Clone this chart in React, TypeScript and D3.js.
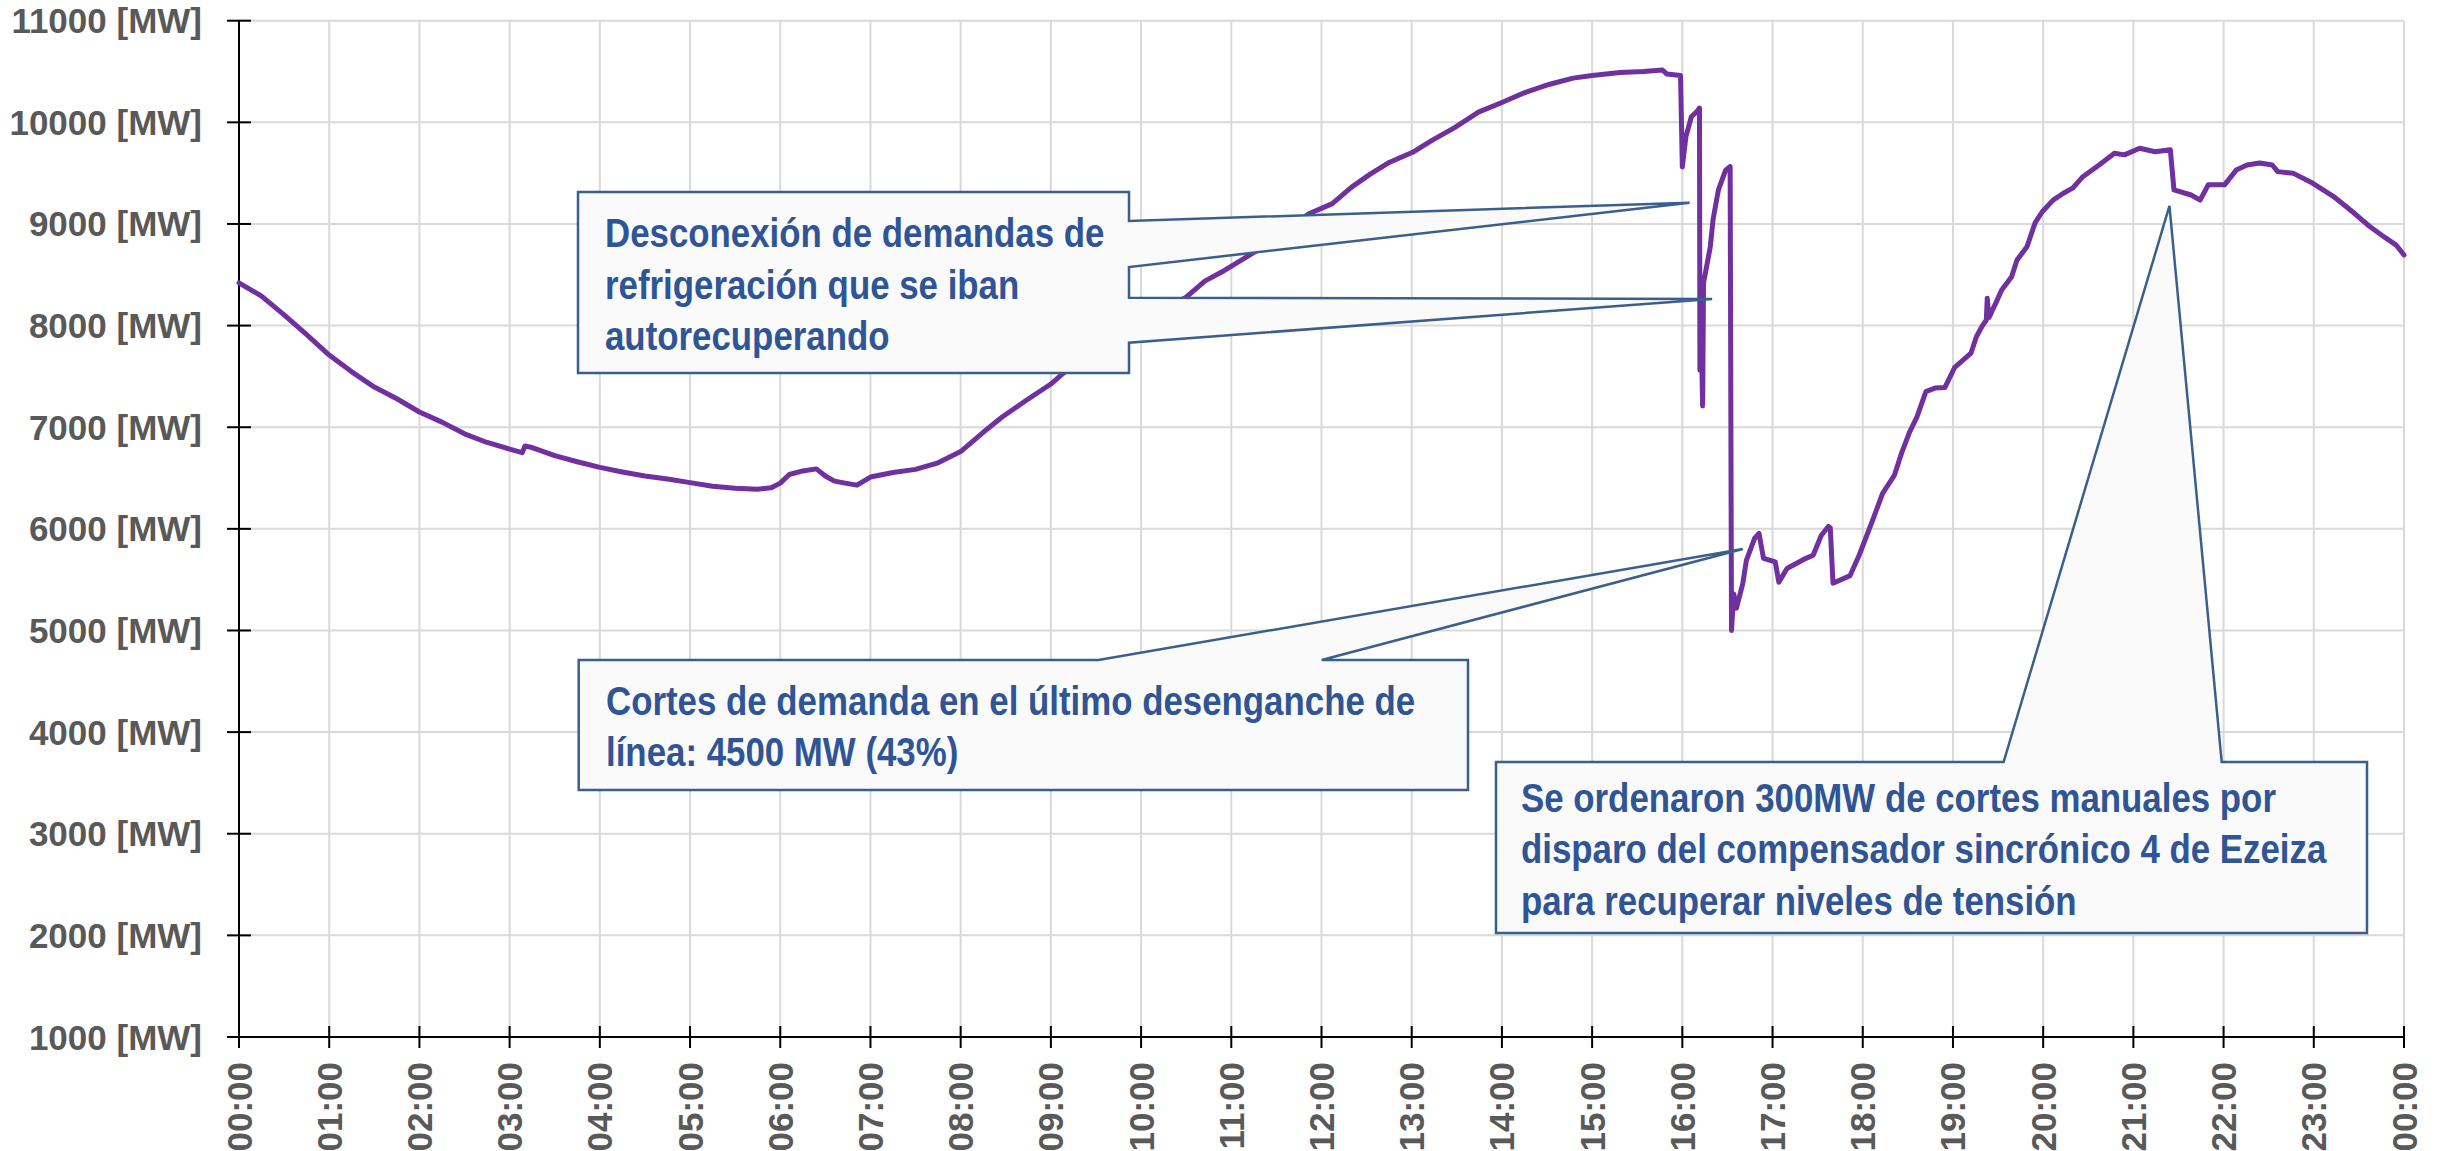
import React from 'react';
import * as d3 from 'd3';

// ---- data (hour of day, demand in MW) ----
const hours = [
  0.0, 0.25, 0.5, 0.75, 1.0, 1.25, 1.5, 1.75, 2.0, 2.25, 2.5, 2.75, 3.0, 3.14, 3.17, 3.25, 3.5, 3.75,
  4.0, 4.25, 4.5, 4.75, 5.0, 5.25, 5.5, 5.75, 5.9, 6.0, 6.1, 6.25, 6.4, 6.5, 6.6, 6.75, 6.85, 7.0,
  7.25, 7.5, 7.75, 8.0, 8.25, 8.46, 8.72, 9.0, 9.11, 9.5, 10.0, 10.25, 10.5, 10.71, 10.92, 11.13,
  11.4, 11.6, 11.86, 12.12, 12.33, 12.54, 12.75, 13.01, 13.22, 13.48, 13.74, 14.0, 14.26, 14.53,
  14.79, 15.0, 15.31, 15.57, 15.78, 15.83, 15.98, 16.0, 16.04, 16.1, 16.16, 16.19, 16.195, 16.21,
  16.225, 16.235, 16.31, 16.34, 16.4, 16.48, 16.53, 16.545, 16.57, 16.6, 16.67, 16.71, 16.8, 16.85,
  16.9, 17.03, 17.07, 17.16, 17.37, 17.45, 17.54, 17.62, 17.64, 17.67, 17.86, 17.96, 18.11, 18.22,
  18.35, 18.43, 18.52, 18.6, 18.7, 18.8, 18.91, 19.02, 19.2, 19.26, 19.32, 19.37, 19.38, 19.4, 19.49,
  19.54, 19.65, 19.71, 19.82, 19.91, 19.99, 20.11, 20.22, 20.33, 20.44, 20.62, 20.79, 20.9, 21.07,
  21.24, 21.41, 21.45, 21.64, 21.74, 21.83, 22.01, 22.14, 22.26, 22.4, 22.54, 22.6, 22.77, 22.99,
  23.22, 23.45, 23.62, 23.8, 23.91, 24.0,
];
const demandMW = [
  8420, 8290, 8105, 7910, 7710, 7545, 7395, 7280, 7150, 7050, 6935, 6850, 6785, 6750, 6815, 6800, 6720, 6660,
  6605, 6560, 6520, 6490, 6455, 6420, 6400, 6390, 6405, 6450, 6535, 6570, 6590, 6520, 6470, 6445, 6430, 6510,
  6555, 6585, 6650, 6760, 6950, 7100, 7260, 7425, 7510, 7790, 8040, 8160, 8280, 8440, 8540, 8655,
  8800, 8930, 9100, 9200, 9360, 9490, 9605, 9705, 9820, 9950, 10100, 10195, 10295, 10375,
  10435, 10460, 10490, 10500, 10515, 10475, 10460, 9560, 9860, 10055, 10105, 10140, 7560, 7900,
  7210, 8420, 8775, 9040, 9335, 9530, 9565, 5000, 5360, 5220, 5460, 5690, 5905, 5955,
  5710, 5675, 5475, 5610, 5710, 5740, 5935, 6025, 6010, 5465, 5540, 5740, 6085, 6350,
  6525, 6745, 6955, 7100, 7350, 7385, 7390, 7590, 7730, 7890, 7990, 8055, 8270, 8080, 8250,
  8350, 8480, 8645, 8775, 9010, 9120, 9235, 9300, 9355, 9465, 9580, 9695, 9680, 9745,
  9710, 9730, 9335, 9285, 9235, 9385, 9385, 9530, 9580, 9600, 9580, 9515, 9500, 9400,
  9270, 9105, 8975, 8860, 8795, 8695,
];
const yTicks = [1000, 2000, 3000, 4000, 5000, 6000, 7000, 8000, 9000, 10000, 11000];
const xTickHours = [0, 1, 2, 3, 4, 5, 6, 7, 8, 9, 10, 11, 12, 13, 14, 15, 16, 17, 18, 19, 20, 21, 22, 23, 24];
const xTickLabels = [
  '00:00', '01:00', '02:00', '03:00', '04:00', '05:00', '06:00', '07:00', '08:00', '09:00', '10:00', '11:00',
  '12:00', '13:00', '14:00', '15:00', '16:00', '17:00', '18:00', '19:00', '20:00', '21:00', '22:00', '23:00', '00:00',
];

// annotation texts & tips (tip in data space)
const note1Lines = ['Desconexión de demandas de', 'refrigeración que se iban', 'autorecuperando'];
const note1Tips: [number, number][] = [[16.08, 9209], [16.33, 8262]];
const note2Lines = ['Cortes de demanda en el último desenganche de', 'línea: 4500 MW (43%)'];
const note2Tip: [number, number] = [16.67, 5802];
const note3Lines = [
  'Se ordenaron 300MW de cortes manuales por',
  'disparo del compensador sincrónico 4 de Ezeiza',
  'para recuperar niveles de tensión',
];
const note3Tip: [number, number] = [21.4, 9177];

const W = 2451;
const H = 1151;
const left = 239;
const right = 2404;
const top = 20.7;
const bottom = 1037;

const AXIS_FONT = "'Liberation Sans', Arial, sans-serif";
const NOTE_FONT = "'Liberation Sans', Arial, sans-serif";
const NOTE_STROKE = '#3b5f8c';
const NOTE_FILL = '#fafafa';
const NOTE_TEXT = '#2f5597';
const NARROW = 0.85;

export default function App() {
  const x = d3.scaleLinear().domain([0, 24]).range([left, right]);
  const y = d3.scaleLinear().domain([1000, 11000]).range([bottom, top]);

  const pts = hours.map((h, i) => [h, demandMW[i]] as [number, number]);
  const line = d3
    .line<[number, number]>()
    .x((d) => x(d[0]))
    .y((d) => y(d[1]))
    .curve(d3.curveLinear);

  // Callout 1: box with two wedges on right edge
  const b1 = { x0: 578, y0: 192, x1: 1129, y1: 373 };
  const t1a = [x(note1Tips[0][0]), y(note1Tips[0][1])];
  const t1b = [x(note1Tips[1][0]), y(note1Tips[1][1])];
  const path1 = [
    `M${b1.x0},${b1.y0}`,
    `L${b1.x1},${b1.y0}`,
    `L${b1.x1},221`,
    `L${t1a[0]},${t1a[1]}`,
    `L${b1.x1},267`,
    `L${b1.x1},297.7`,
    `L${t1b[0]},${t1b[1]}`,
    `L${b1.x1},342.7`,
    `L${b1.x1},${b1.y1}`,
    `L${b1.x0},${b1.y1}`,
    'Z',
  ].join(' ');

  const b2 = { x0: 578.7, y0: 660, x1: 1468, y1: 790 };
  const t2 = [x(note2Tip[0]), y(note2Tip[1])];
  const path2 = [
    `M${b2.x0},${b2.y0}`,
    `L1098.5,${b2.y0}`,
    `L${t2[0]},${t2[1]}`,
    `L1321.7,${b2.y0}`,
    `L${b2.x1},${b2.y0}`,
    `L${b2.x1},${b2.y1}`,
    `L${b2.x0},${b2.y1}`,
    'Z',
  ].join(' ');

  const b3 = { x0: 1496, y0: 762, x1: 2367, y1: 933 };
  const t3 = [x(note3Tip[0]), y(note3Tip[1])];
  const path3 = [
    `M${b3.x0},${b3.y0}`,
    `L2003.6,${b3.y0}`,
    `L${t3[0]},${t3[1]}`,
    `L2221.7,${b3.y0}`,
    `L${b3.x1},${b3.y0}`,
    `L${b3.x1},${b3.y1}`,
    `L${b3.x0},${b3.y1}`,
    'Z',
  ].join(' ');

  const noteText = (lines: string[], tx: number, firstBase: number) => (
    <g transform={`translate(${tx},0) scale(${NARROW},1)`}>
      {lines.map((l, i) => (
        <text
          key={i}
          x={0}
          y={firstBase + i * 51.5}
          fontFamily={NOTE_FONT}
          fontWeight="bold"
          fontSize={41}
          fill={NOTE_TEXT}
        >
          {l}
        </text>
      ))}
    </g>
  );

  return (
    <svg
      width={W}
      height={H}
      style={{ position: 'absolute', left: 0, top: 0, display: 'block', background: '#fff' }}
    >
      <rect x={0} y={0} width={W} height={H} fill="#ffffff" />
      {/* gridlines */}
      <g stroke="#d9d9d9" strokeWidth={2}>
        {yTicks.map((t) => (
          <line key={'gy' + t} x1={left} x2={right} y1={y(t)} y2={y(t)} />
        ))}
        {xTickHours.map((h) => (
          <line key={'gx' + h} x1={x(h)} x2={x(h)} y1={top} y2={bottom} />
        ))}
      </g>
      {/* axes */}
      <g stroke="#000" strokeWidth={2}>
        <line x1={left} x2={left} y1={top} y2={bottom} />
        <line x1={left} x2={right} y1={bottom} y2={bottom} />
        {yTicks.map((t) => (
          <line key={'ty' + t} x1={left - 12} x2={left + 12} y1={y(t)} y2={y(t)} />
        ))}
        {xTickHours.map((h) => (
          <line key={'tx' + h} x1={x(h)} x2={x(h)} y1={bottom - 11} y2={bottom + 11} />
        ))}
      </g>
      {/* axis labels */}
      <g fontFamily={AXIS_FONT} fontWeight="bold" fontSize={35} fill="#595959">
        {yTicks.map((t) => (
          <text key={'ly' + t} x={202} y={y(t)} textAnchor="end" dominantBaseline="central">
            {`${t} [MW]`}
          </text>
        ))}
        {xTickHours.map((h, i) => (
          <text
            key={'lx' + i}
            transform={`translate(${x(h)},1062) rotate(-90)`}
            textAnchor="end"
            dominantBaseline="central"
          >
            {xTickLabels[i]}
          </text>
        ))}
      </g>
      {/* data line */}
      <path
        d={line(pts) || ''}
        fill="none"
        stroke="#7030a0"
        strokeWidth={5}
        strokeLinejoin="round"
        strokeLinecap="round"
      />
      {/* callouts */}
      <path d={path1} fill={NOTE_FILL} stroke={NOTE_STROKE} strokeWidth={2.5} strokeLinejoin="miter" />
      {noteText(note1Lines, 605, 247.3)}
      <path d={path2} fill={NOTE_FILL} stroke={NOTE_STROKE} strokeWidth={2.5} />
      {noteText(note2Lines, 606, 715)}
      <path d={path3} fill={NOTE_FILL} stroke={NOTE_STROKE} strokeWidth={2.5} />
      {noteText(note3Lines, 1521, 811.7)}
    </svg>
  );
}
